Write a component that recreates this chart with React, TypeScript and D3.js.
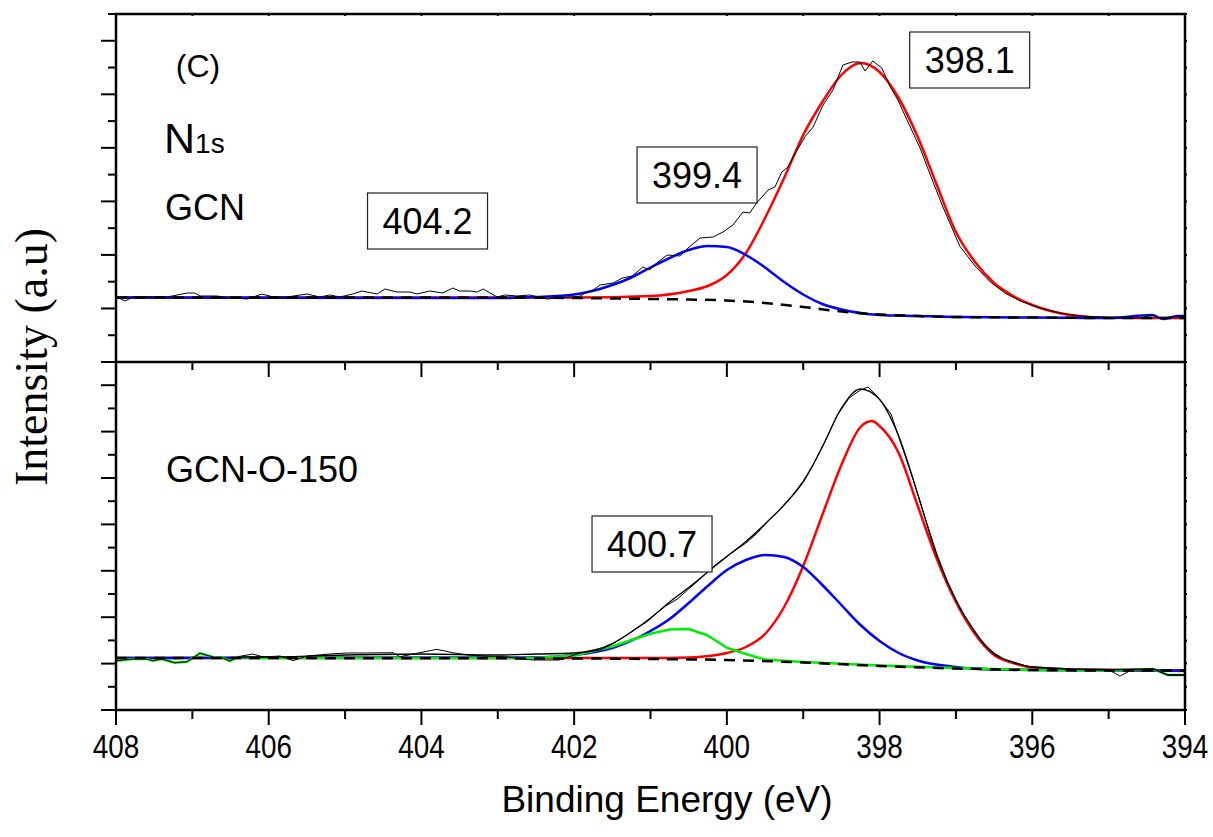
import * as d3 from "d3";

type Pt = [number, number];

// energy axis (eV, reversed) and arbitrary intensity scale shared by both panels
const energyDomain: [number, number] = [408, 394];
const auMax = 348;
const topTickCount = 13;
const botTickCount = 15;

// ---- GCN (top panel) ----
const topBackground: Pt[] = [
  [408, 64.5], [403, 64.5], [402, 64], [401, 63], [400.5, 62.5], [400, 61.5], [399.5, 59],
  [399, 55], [398.5, 50.5], [398, 47.5], [397.5, 46], [397, 45], [396, 44.5], [395, 44], [394, 44],
];
const topRed: Pt[] = [
  [408, 64.5], [402, 64.5], [401, 66], [400.5, 71], [400.25, 76], [400, 87], [399.75, 109],
  [399.5, 144], [399.25, 184], [399, 227], [398.75, 260], [398.5, 287], [398.25, 299], [398, 290],
  [397.75, 264], [397.5, 225], [397.25, 177], [397, 130], [396.75, 100], [396.5, 79], [396.25, 66],
  [396, 57], [395.5, 47], [395, 44.2], [394, 44],
];
const topBlue: Pt[] = [
  [408, 64.5], [403, 64], [402.5, 65], [402, 67.5], [401.5, 77], [401.25, 84.5], [401, 94.5],
  [400.75, 104], [400.5, 112], [400.25, 116], [400, 115], [399.75, 107], [399.5, 94.5], [399.25, 80],
  [399, 67.5], [398.75, 58], [398.5, 52.5], [398, 47], [397.5, 46], [397, 45], [396, 44.5], [395, 44],
  [394.43, 47], [394.29, 43], [394.1, 46], [394, 46],
];
const topRaw: Pt[] = [
  [407.99, 65], [407.88, 61], [407.78, 65], [407.33, 65], [407.07, 69], [406.97, 69], [406.9, 66],
  [406.68, 66], [406.47, 64], [406.28, 63], [406.09, 68], [405.94, 65], [405.76, 65], [405.5, 68],
  [405.33, 65], [405.2, 67], [405.07, 65], [404.9, 68], [404.78, 71], [404.58, 68], [404.48, 73],
  [404.32, 70], [404.15, 70], [404.06, 68], [403.89, 71], [403.72, 69], [403.59, 74], [403.5, 71],
  [403.36, 71], [403.27, 70], [403.19, 73], [403.01, 65], [402.91, 67], [402.75, 66], [402.58, 67],
  [402.36, 63], [402.19, 64], [402.02, 65], [401.92, 66], [401.83, 70], [401.75, 72], [401.66, 77],
  [401.49, 79], [401.37, 84], [401.24, 86], [401.1, 95], [401.01, 92], [400.92, 99], [400.78, 107],
  [400.61, 106], [400.51, 114], [400.35, 124], [400.18, 125], [400.05, 130], [399.92, 137],
  [399.79, 150], [399.7, 149], [399.61, 159], [399.46, 172], [399.37, 175], [399.28, 190],
  [399.2, 195], [399.13, 205], [398.98, 225], [398.87, 235], [398.74, 257], [398.61, 272],
  [398.48, 297], [398.36, 300], [398.26, 300], [398.19, 291], [398.09, 301], [397.97, 294],
  [397.86, 275], [397.76, 262], [397.64, 242], [397.47, 214], [397.34, 188], [397.17, 155],
  [396.95, 116], [396.75, 96], [396.55, 80], [396.36, 69], [396.16, 61], [395.9, 54], [395.64, 49],
  [395.38, 46], [395.11, 45], [394.85, 44], [394.59, 44], [394.43, 47], [394.29, 43], [394.1, 46],
  [394, 46],
];

// ---- GCN-O-150 (bottom panel) ----
const botBackground: Pt[] = [
  [408, 52], [402, 51.5], [401, 51], [400, 50], [399, 47.5], [398, 44], [397, 41.5], [396, 40],
  [395, 39.5], [394, 39.5],
];
const botRed: Pt[] = [
  [408, 52], [401, 52], [400.5, 52.5], [400, 57], [399.75, 63], [399.5, 76], [399.25, 103],
  [399, 144], [398.75, 195], [398.5, 245], [398.25, 283], [398.1, 289], [398, 284], [397.75, 257],
  [397.5, 204], [397.25, 151], [397, 108], [396.75, 76], [396.5, 55], [396.25, 47], [396, 42.5],
  [395.5, 40.5], [395, 40], [394, 39],
];
const botBlue: Pt[] = [
  [408, 52], [402.5, 52.5], [402, 55], [401.5, 62], [401, 79], [400.75, 91], [400.5, 107],
  [400.25, 124], [400, 140], [399.75, 150], [399.5, 155], [399.25, 153], [399, 143], [398.75, 125],
  [398.5, 105], [398.25, 85], [398, 69], [397.75, 57], [397.5, 49.5], [397, 43], [396.5, 40.5],
  [396, 40], [394, 39.5],
];
const botGreen: Pt[] = [
  [408, 49.3], [407.78, 51], [407.59, 51], [407.52, 49.3], [407.4, 51], [407.23, 47.3],
  [407.07, 48.3], [406.9, 56.7], [406.7, 52.3], [406.61, 52.3], [406.51, 49], [406.4, 53],
  [406.2, 52], [403, 52], [402.5, 52], [402, 54.5], [401.5, 63.5], [401.25, 70], [401, 76.3],
  [400.75, 80.5], [400.5, 81], [400.25, 74.5], [400, 62.3], [399.75, 56], [399.5, 50.5], [399, 48],
  [398, 44.5], [397, 42], [396, 40], [395, 39.5], [394.81, 40], [394.42, 41], [394.22, 35], [394, 35],
];
const botEnvelope: Pt[] = [
  [406.4, 53], [406, 53], [405, 55], [404, 56], [403, 55], [402.5, 56], [402, 57], [401.5, 66.4],
  [401.25, 78], [401, 92], [400.75, 108], [400.5, 122.5], [400.25, 138], [400, 153.5],
  [399.75, 168.5], [399.5, 186], [399.25, 205], [399, 228], [398.75, 263], [398.5, 302],
  [398.25, 321], [398, 310.5], [397.75, 274], [397.5, 216], [397.25, 154.5], [397, 110],
  [396.75, 78], [396.5, 56], [396.25, 48], [396, 43], [395, 40.5], [394.42, 41], [394.22, 35],
  [394, 35],
];
const botRaw: Pt[] = [
  [407.99, 49.3], [407.78, 51], [407.59, 51], [407.52, 49.3], [407.4, 51], [407.23, 47.3],
  [407.07, 48.3], [406.9, 56.7], [406.7, 52.3], [406.61, 52.3], [406.51, 49], [406.4, 53.3],
  [406.21, 56], [406.07, 53], [405.85, 54], [405.68, 49.3], [405.5, 54], [405.2, 56], [404.97, 57],
  [404.71, 57], [404.37, 57.3], [404.28, 53.3], [404.02, 57.3], [403.8, 60.7], [403.59, 57.3],
  [403.4, 55], [403.19, 54], [402.88, 53], [402.54, 50], [402.19, 50], [401.92, 57], [401.66, 60],
  [401.5, 66], [401.35, 73], [401.2, 81], [401.05, 88], [400.9, 98], [400.8, 104], [400.65, 111],
  [400.5, 121], [400.35, 131], [400.2, 142], [400.05, 151], [399.9, 159], [399.75, 167],
  [399.6, 177], [399.45, 190], [399.3, 201], [399.15, 214], [399, 229], [398.85, 248], [398.7, 271],
  [398.55, 295], [398.4, 312], [398.25, 320], [398.15, 323], [398, 311], [397.85, 296], [397.7, 262],
  [397.55, 228], [397.4, 191], [397.25, 156], [397.1, 126], [396.95, 102], [396.8, 84], [396.65, 67],
  [396.5, 57], [396.35, 50], [396.2, 46], [396, 43], [395.8, 42], [395.6, 41], [395.4, 40.5],
  [395.2, 40], [395, 40], [394.85, 34], [394.7, 40], [394.42, 41], [394.22, 35], [394, 35],
];

// peak position labels: [text, energy at box centre, a.u. at box centre, panel]
const peakLabels: [string, number, number, "top" | "bot"][] = [
  ["398.1", 396.82, 302, "top"],
  ["399.4", 400.39, 187, "top"],
  ["404.2", 403.92, 141, "top"],
  ["400.7", 400.98, 166, "bot"],
];

const sans = "'Liberation Sans', Arial, sans-serif";

export default function App() {
  const width = 1213;
  const height = 837;
  const left = 116;
  const right = 1185;
  const top = 14;
  const mid = 362;
  const bottom = 710;

  const x = d3.scaleLinear().domain(energyDomain).range([left, right]);
  const yTop = d3.scaleLinear().domain([0, auMax]).range([mid, top]);
  const yBot = d3.scaleLinear().domain([0, auMax]).range([bottom, mid]);

  const byEnergy = (d: Pt[]) => d.slice().sort((a, b) => b[0] - a[0]);
  const smooth = (d: Pt[], y: d3.ScaleLinear<number, number>) =>
    d3.line<Pt>().x((p) => x(p[0])).y((p) => y(p[1])).curve(d3.curveMonotoneX)(byEnergy(d)) || "";
  const jagged = (d: Pt[], y: d3.ScaleLinear<number, number>) =>
    d3.line<Pt>().x((p) => x(p[0])).y((p) => y(p[1]))(byEnergy(d)) || "";

  const xTicks = x.ticks(14);
  const topTicks = d3.range(topTickCount + 1).map((k) => (k * auMax) / topTickCount);
  const botTicks = d3.range(botTickCount + 1).map((k) => (k * auMax) / botTickCount);

  const fit = { fill: "none", strokeWidth: 2.5, strokeLinejoin: "round" as const };
  const dashed = { fill: "none", stroke: "#000", strokeWidth: 2.5, strokeDasharray: "11 8" };

  return (
    <svg
      width={width}
      height={height}
      style={{ position: "absolute", left: 0, top: 0, background: "#fff" }}
    >
      {/* top panel curves */}
      <path d={smooth(topRed, yTop)} stroke="#ff0000" {...fit} />
      <path d={smooth(topBlue, yTop)} stroke="#0000ff" {...fit} />
      <path d={smooth(topBackground, yTop)} {...dashed} />
      <path d={jagged(topRaw, yTop)} fill="none" stroke="#000" strokeWidth={1} />

      {/* bottom panel curves */}
      <path d={smooth(botRed, yBot)} stroke="#ff0000" {...fit} />
      <path d={smooth(botBlue, yBot)} stroke="#0000ff" {...fit} />
      <path d={jagged(botGreen, yBot)} stroke="#00ee00" {...fit} />
      <path d={smooth(botBackground, yBot)} {...dashed} />
      <path d={smooth(botEnvelope, yBot)} fill="none" stroke="#000" strokeWidth={1.3} />
      <path d={jagged(botRaw, yBot)} fill="none" stroke="#000" strokeWidth={1} />

      {/* frame */}
      <g stroke="#000" strokeWidth={2.5} fill="none">
        <rect x={left} y={top} width={right - left} height={bottom - top} />
        <line x1={left} x2={right} y1={mid} y2={mid} />
      </g>

      {/* intensity ticks */}
      <g stroke="#000" strokeWidth={2}>
        {topTicks.map((v, i) => (
          <line key={"lt" + i} x1={left} x2={left - (i % 2 === 0 ? 15 : 8)} y1={yTop(v)} y2={yTop(v)} />
        ))}
        {botTicks.map((v, i) => (
          <line key={"lb" + i} x1={left} x2={left - (i % 2 === 0 ? 15 : 8)} y1={yBot(v)} y2={yBot(v)} />
        ))}
        {topTicks.map((v, i) => (
          <line key={"rt" + i} x1={right} x2={right + 2} y1={yTop(v)} y2={yTop(v)} />
        ))}
        {botTicks.map((v, i) => (
          <line key={"rb" + i} x1={right} x2={right + 2} y1={yBot(v)} y2={yBot(v)} />
        ))}
      </g>

      {/* energy ticks */}
      <g stroke="#000" strokeWidth={2}>
        {xTicks.map((e) => {
          const major = e % 2 === 0;
          return (
            <g key={"xt" + e}>
              <line x1={x(e)} x2={x(e)} y1={bottom} y2={bottom + (major ? 15 : 9)} />
              <line x1={x(e)} x2={x(e)} y1={mid} y2={mid + (major ? 15 : 8)} />
              <line x1={x(e)} x2={x(e)} y1={top} y2={top + 2} />
            </g>
          );
        })}
      </g>
      <g fontFamily={sans} fontSize={34} textAnchor="middle" fill="#000">
        {xTicks
          .filter((e) => e % 2 === 0)
          .map((e) => (
            <text key={"xl" + e} transform={`translate(${x(e)}, 758) scale(0.82, 1)`}>
              {e}
            </text>
          ))}
      </g>

      {/* axis titles */}
      <text x={667} y={812} fontFamily={sans} fontSize={37} textAnchor="middle">
        Binding Energy (eV)
      </text>
      <text
        transform="translate(47, 357) rotate(-90)"
        fontFamily="'Liberation Serif', 'Times New Roman', serif"
        fontSize={46}
        textAnchor="middle"
      >
        Intensity (a.u)
      </text>

      {/* annotations */}
      <g fontFamily={sans} fill="#000">
        <text x={198} y={77} fontSize={32} textAnchor="middle">(C)</text>
        <text x={164} y={153} fontSize={43}>
          N<tspan fontSize={28}>1s</tspan>
        </text>
        <text x={165} y={220} fontSize={36}>GCN</text>
        <text x={166} y={482} fontSize={36}>GCN-O-150</text>
      </g>

      {peakLabels.map(([label, e, v, panel]) => {
        const y = panel === "top" ? yTop : yBot;
        const cx = x(e);
        const cy = y(v);
        return (
          <g key={label}>
            <rect x={cx - 60} y={cy - 28} width={120} height={56} fill="#fff" stroke="#222" strokeWidth={1.2} />
            <text x={cx} y={cy + 13} fontFamily={sans} fontSize={36} textAnchor="middle">
              {label}
            </text>
          </g>
        );
      })}
    </svg>
  );
}
